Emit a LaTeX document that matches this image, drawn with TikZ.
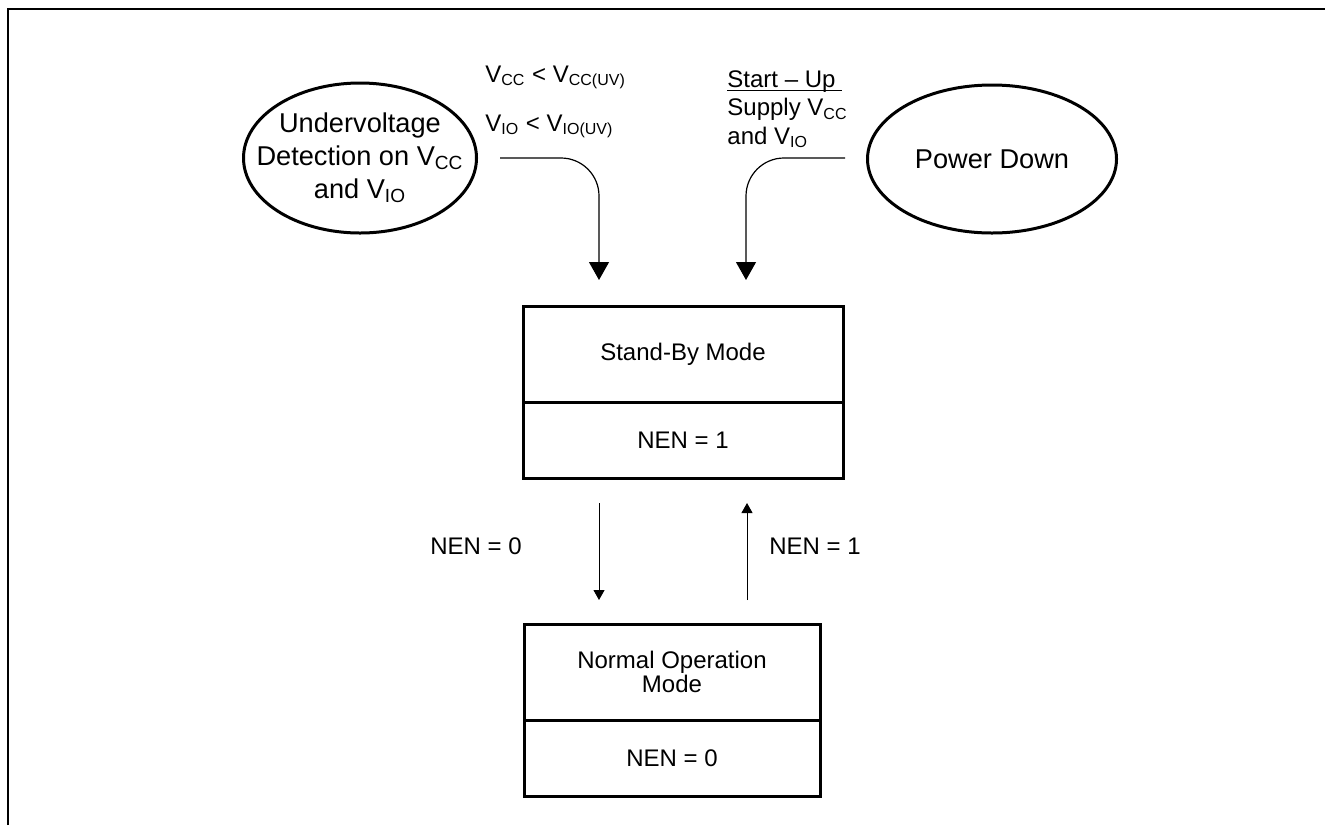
\documentclass[tikz,border=0pt]{standalone}
\usepackage{fontspec}
\setmainfont{Liberation Sans}
\usetikzlibrary{positioning}
\usetikzlibrary{shapes.geometric}
\usetikzlibrary{arrows.meta}
\newcommand{\volt}[1]{V\textsubscript{#1}}

\begin{document}
\begin{tikzpicture}[x=0.5pt, y=-0.5pt,
bubble/.style={ellipse, draw=black, line width=1.5pt, inner sep=0pt},
bubbletext/.style={align=center, font=\fontsize{13.6}{16.5}\selectfont},
modetop/.style={rectangle, draw=black, line width=1.5pt, outer sep=0pt, minimum height=48pt, align=center, font=\fontsize{12}{10}\selectfont},
modebot/.style={rectangle, draw=black, line width=1.5pt, outer sep=0pt, minimum height=38pt, font=\fontsize{12}{14}\selectfont},
condlabel/.style={inner sep=0pt, font=\fontsize{12}{14.2}\selectfont},
bigarrow/.style={-{Triangle[width=10pt,length=9pt]}, line width=0.6pt, rounded corners=19pt},
smallarrow/.style={-{Triangle[width=5.5pt,length=5pt]}, line width=0.5pt}]
\useasboundingbox (0,0) rectangle (1325,825);
\draw[line width=1pt] (8,825) -- (8,9) -- (1325,9);

% entry states
\node[bubble, minimum width=116.5pt, minimum height=75pt] (uv) at (360,158) {};
\node[bubbletext] (uvtext) at (uv.center) {Undervoltage\\Detection on \volt{CC}\\and \volt{IO}};
\node[bubble, minimum width=124.5pt, minimum height=74pt] (pd) at (992,159) {};
\node[bubbletext] (pdtext) at (pd.center) {Power Down};

% modes
\node[modetop, minimum width=160pt] (sbtop) at (683,354) {Stand-By Mode};
\node[modebot, minimum width=160pt, below=0pt of sbtop] (sbbot) {NEN = 1};
\node[modetop, minimum width=148pt] (nmtop) at (672,672) {Normal Operation\\Mode};
\node[modebot, minimum width=148pt, below=0pt of nmtop] (nmbot) {NEN = 0};

% conditions
\node[condlabel, anchor=base west] (uvcc) at (485,82) {\volt{CC} < \volt{CC(UV)}};
\node[condlabel, anchor=base west] (uvio) at (485,131) {\volt{IO} < \volt{IO(UV)}};
\node[condlabel, anchor=base west, align=left] (sulabel) at (727,144) {\underline{\smash{Start -- Up\ }}\\Supply \volt{CC}\\and \volt{IO}};
\node[condlabel] (nen0) at (476,546) {NEN = 0};
\node[condlabel] (nen1) at (815,546) {NEN = 1};

\coordinate (uvin) at (500,158);
\coordinate (uvout) at (599,280);
\coordinate (suin) at (845,158);
\coordinate (suout) at (746,280);
\coordinate (dnstart) at (599,503);
\coordinate (dnend) at (599,600);
\coordinate (upstart) at (747,600);
\coordinate (upend) at (747,503);

\draw[bigarrow] (uvin) -| (uvout);
\draw[bigarrow] (suin) -| (suout);
\draw[smallarrow] (dnstart) -- (dnend);
\draw[smallarrow] (upstart) -- (upend);
\end{tikzpicture}
\end{document}
